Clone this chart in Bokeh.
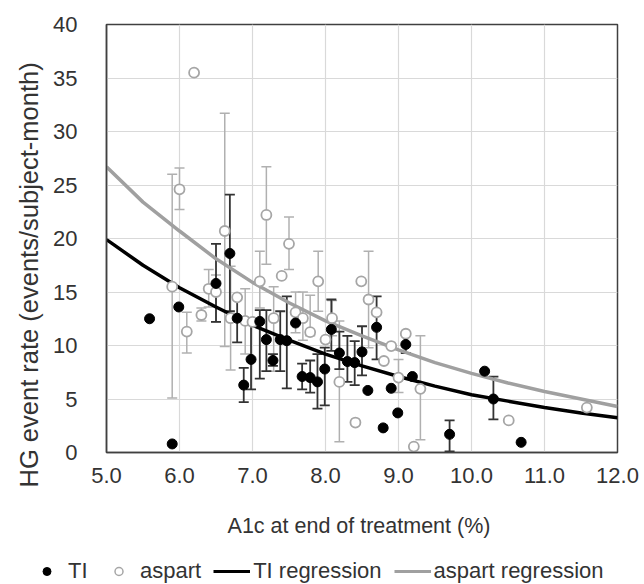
from bokeh.plotting import figure
from bokeh.layouts import column, row
from bokeh.models import (Range1d, FixedTicker, PrintfTickFormatter, ColumnDataSource,
                          Whisker, TeeHead, Legend, LegendItem, Title)
from bokeh.embed import file_html
from bokeh.resources import INLINE

# ---- data ----
ti_x = [5.59, 5.90, 5.99, 6.50, 6.69, 6.79, 6.88, 6.98, 7.10, 7.19, 7.28, 7.38, 7.47, 7.59,
        7.68, 7.79, 7.89, 7.99, 8.08, 8.19, 8.30, 8.40, 8.50, 8.58, 8.70, 8.79, 8.90, 8.99,
        9.10, 9.19, 9.70, 10.18, 10.30, 10.68]
ti_y = [12.5, 0.8, 13.6, 15.8, 18.6, 12.55, 6.3, 8.7, 12.25, 10.55, 8.6, 10.55, 10.45, 12.1,
        7.1, 7.0, 6.6, 7.8, 11.5, 9.3, 8.5, 8.4, 9.4, 5.8, 11.7, 2.3, 6.0, 3.7,
        10.1, 7.1, 1.7, 7.6, 5.0, 0.95]

ti_err_x = [6.50, 6.69, 6.79, 6.88, 6.98, 7.10, 7.19, 7.28, 7.38, 7.47, 7.68, 7.79, 7.89, 7.99,
            8.08, 8.19, 8.30, 8.40, 8.50, 8.70, 9.10, 9.70, 10.30]
ti_err_lo = [12.2, 13.2, 10.3, 4.7, 5.9, 6.9, 7.6, 8.1, 7.6, 6.0, 5.9, 5.6, 4.1, 4.4,
             9.5, 7.8, 6.6, 6.3, 7.2, 8.7, 9.3, 0.1, 3.1]
ti_err_hi = [19.5, 24.1, 14.5, 7.9, 11.9, 13.3, 13.3, 9.2, 13.2, 14.6, 8.3, 8.6, 9.2, 9.8,
             14.3, 11.3, 10.9, 10.4, 11.8, 14.6, 11.0, 3.0, 7.1]

asp_x = [5.90, 6.00, 6.10, 6.20, 6.30, 6.40, 6.50, 6.62, 6.70, 6.79, 6.90, 7.00, 7.10, 7.19,
         7.29, 7.40, 7.50, 7.59, 7.69, 7.79, 7.90, 8.00, 8.09, 8.19, 8.41, 8.49, 8.59, 8.70,
         8.80, 8.90, 9.00, 9.10, 9.21, 9.30, 10.51, 11.58]
asp_y = [15.5, 24.6, 11.3, 35.5, 12.85, 15.3, 15.0, 20.7, 12.55, 14.5, 12.3, 12.2, 16.0, 22.2,
         12.55, 16.5, 19.5, 13.1, 12.55, 11.25, 16.0, 10.55, 12.55, 6.6, 2.8, 16.0, 14.3, 13.1,
         8.55, 9.95, 7.0, 11.1, 0.55, 5.95, 3.0, 4.2]

asp_err_x = [5.90, 6.00, 6.10, 6.30, 6.40, 6.50, 6.62, 6.70, 6.90, 7.10, 7.19, 7.29, 7.50, 7.59,
             7.69, 7.79, 7.90, 8.09, 8.19, 8.59, 9.00, 9.30]
asp_err_lo = [5.1, 22.7, 9.3, 12.3, 13.6, 12.2, 9.9, 7.7, 9.2, 13.5, 17.6, 7.6, 17.1, 11.2,
              10.5, 10.9, 13.2, 10.9, 1.0, 9.8, 5.6, 1.2]
asp_err_hi = [26.0, 26.6, 13.1, 13.5, 17.1, 16.6, 31.7, 17.4, 15.3, 18.8, 26.7, 15.5, 22.0, 15.0,
              15.0, 14.7, 18.8, 14.2, 12.3, 18.8, 8.7, 10.9]

reg_x = [5.0, 5.5, 6.0, 6.5, 7.0, 7.5, 8.0, 8.5, 9.0, 9.5, 10.0, 10.5, 11.0, 11.5, 12.0]
ti_reg_y = [19.9, 17.5, 15.4, 13.6, 11.9, 10.5, 9.2, 8.1, 7.1, 6.2, 5.4, 4.8, 4.2, 3.7, 3.25]
asp_reg_y = [26.7, 23.4, 20.7, 18.1, 15.9, 14.0, 12.3, 10.9, 9.6, 8.4, 7.4, 6.5, 5.7, 5.0, 4.3]

x_ticks = [5, 6, 7, 8, 9, 10, 11, 12]
y_ticks = [0, 5, 10, 15, 20, 25, 30, 35, 40]

x_title = "A1c at end of treatment  (%)"
y_title = "HG event rate (events/subject-month)"
legend_labels = ["TI", "aspart", "TI regression", "aspart regression"]

FONT = "Liberation Sans"
TXT = "#333333"
TI_C = "#000000"
ASP_C = "#a6a6a6"
REG_GRAY = "#a0a0a0"

# ---------------- main plot ----------------
p = figure(width=644, height=540, output_backend="svg", toolbar_location=None,
           x_range=Range1d(5, 12), y_range=Range1d(0, 40),
           min_border_left=106, min_border_right=27, min_border_top=24, min_border_bottom=82)
p.background_fill_color = "white"
p.border_fill_color = "white"
p.outline_line_color = "#404040"
p.outline_line_width = 1.5

p.xgrid.grid_line_color = "#d9d9d9"
p.ygrid.grid_line_color = "#d9d9d9"
p.xgrid.grid_line_width = 1.2
p.ygrid.grid_line_width = 1.2

p.xaxis.ticker = FixedTicker(ticks=x_ticks)
p.yaxis.ticker = FixedTicker(ticks=y_ticks)
p.xaxis.formatter = PrintfTickFormatter(format="%.1f")
for ax in (p.xaxis[0], p.yaxis[0]):
    ax.major_tick_line_color = None
    ax.minor_tick_line_color = None
    ax.axis_line_color = "#404040"
    ax.axis_line_width = 1.5
    ax.major_label_text_font = FONT
    ax.major_label_text_font_size = "22px"
    ax.major_label_text_color = TXT
    ax.axis_label_text_font = FONT
    ax.axis_label_text_font_style = "normal"
    ax.axis_label_text_color = TXT

p.xaxis.axis_label = x_title
p.xaxis.axis_label_text_font_size = "21.5px"
p.xaxis.major_label_standoff = 9
p.xaxis.axis_label_standoff = 28
p.yaxis.major_label_standoff = 23

# y title as a left-side title, starting a little below the frame bottom
p.add_layout(Title(text=y_title, align="left", offset=-35, standoff=16,
                   text_font=FONT, text_font_size="25.5px", text_font_style="normal",
                   text_color=TXT), "left")

r_asp_reg = p.line(reg_x, asp_reg_y, line_color=REG_GRAY, line_width=3.5)
r_ti_reg = p.line(reg_x, ti_reg_y, line_color=TI_C, line_width=3.5)

asp_err_src = ColumnDataSource(dict(x=asp_err_x, lo=asp_err_lo, hi=asp_err_hi))
ti_err_src = ColumnDataSource(dict(x=ti_err_x, lo=ti_err_lo, hi=ti_err_hi))
p.add_layout(Whisker(base="x", lower="lo", upper="hi", source=asp_err_src,
                     line_color="#b0b0b0", line_width=1.5,
                     upper_head=TeeHead(size=10, line_color="#b0b0b0", line_width=1.5),
                     lower_head=TeeHead(size=10, line_color="#b0b0b0", line_width=1.5)))
p.add_layout(Whisker(base="x", lower="lo", upper="hi", source=ti_err_src,
                     line_color="#333333", line_width=1.8,
                     upper_head=TeeHead(size=10, line_color="#333333", line_width=1.8),
                     lower_head=TeeHead(size=10, line_color="#333333", line_width=1.8)))

p.scatter(asp_x, asp_y, marker="circle", size=10, fill_color="white",
          line_color=ASP_C, line_width=1.8)
p.scatter(ti_x, ti_y, marker="circle", size=10, fill_color=TI_C, line_color=TI_C)

# ---------------- legend strip ----------------
lg = figure(width=644, height=44, output_backend="svg", toolbar_location=None,
            x_range=Range1d(0, 1), y_range=Range1d(0, 1),
            x_axis_type=None, y_axis_type=None, min_border=0)
lg.outline_line_color = None
lg.grid.visible = False
# off-screen proxy renderers, used only for the legend swatches
l_ti = lg.scatter([-5], [-5], marker="circle", size=6, fill_color=TI_C, line_color=TI_C)
l_asp = lg.scatter([-5], [-5], marker="circle", size=7, fill_color="white",
                   line_color=ASP_C, line_width=1.5)
l_ti_reg = lg.line([-5, -4], [-5, -5], line_color=TI_C, line_width=3)
l_asp_reg = lg.line([-5, -4], [-5, -5], line_color=REG_GRAY, line_width=3)
legend = Legend(items=[LegendItem(label=legend_labels[0], renderers=[l_ti]),
                       LegendItem(label=legend_labels[1], renderers=[l_asp]),
                       LegendItem(label=legend_labels[2], renderers=[l_ti_reg]),
                       LegendItem(label=legend_labels[3], renderers=[l_asp_reg])],
                orientation="horizontal", location=(28, 0),
                label_text_font=FONT, label_text_font_size="22px", label_text_color=TXT,
                glyph_width=37, glyph_height=20, label_standoff=3, spacing=12,
                border_line_color=None, background_fill_alpha=0, padding=0, margin=0)
lg.add_layout(legend, "center")

layout = column(p, row(lg))
open("out.html", "w").write(file_html(layout, INLINE))
